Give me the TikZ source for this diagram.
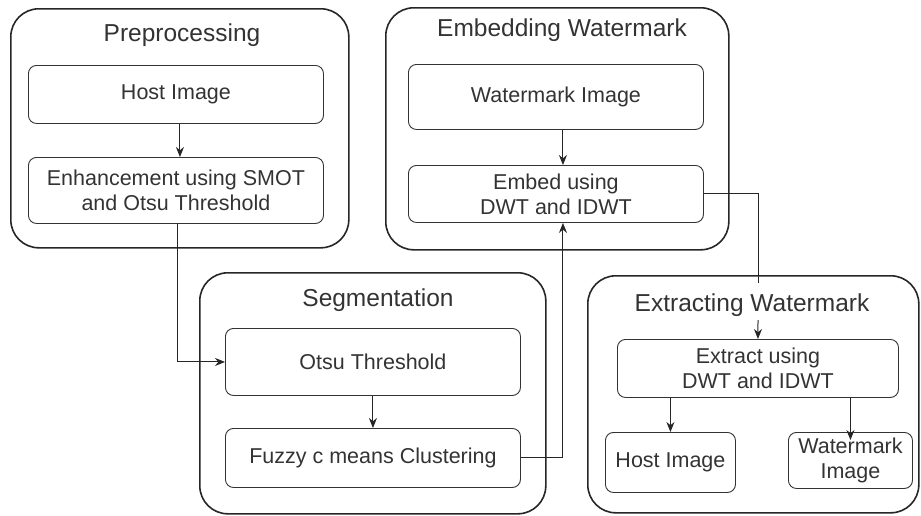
\documentclass[tikz,border=0pt]{standalone}
\usepackage{fontspec}
\setmainfont{Liberation Sans}
\usetikzlibrary{arrows.meta,calc}
\begin{document}
\begin{tikzpicture}[x=1pt,y=-1pt,
  outer/.style={draw=black!85,line width=1.6pt,rounded corners=28pt,anchor=north west,inner sep=0pt},
  inner/.style={draw=black!80,line width=0.9pt,rounded corners=8pt,anchor=north west,inner sep=0pt,align=center,font=\fontsize{21.5}{25}\selectfont,text=black!80},
  ttl/.style={font=\fontsize{24.5}{28}\selectfont,text=black!80},
  conn/.style={draw=black!85,line width=1pt},
  arr/.style={conn,-{Stealth[length=10pt,width=8pt]}}]
\useasboundingbox (0,0) rectangle (921,515);
% outer groups
\node[outer,minimum width=338pt,minimum height=239pt] (pre) at (10,8) {};
\node[outer,minimum width=343pt,minimum height=242pt] (emb) at (385,7) {};
\node[outer,minimum width=346pt,minimum height=241pt] (seg) at (199,272) {};
\node[outer,minimum width=331pt,minimum height=237pt] (ext) at (587,275) {};
% titles
\node[ttl] (tpre) at (182,35) {Preprocessing};
\node[ttl] (temb) at (562,30) {Embedding Watermark};
\node[ttl] (tseg) at (378,300) {Segmentation};
\node[ttl] (text) at (752,305) {Extracting Watermark};
% inner boxes
\node[inner,minimum width=295pt,minimum height=58pt] (host1) at (28,65) {Host Image};
\node[inner,minimum width=295pt,minimum height=66pt] (enh) at (28,157) {Enhancement using SMOT\\and Otsu Threshold};
\node[inner,minimum width=295pt,minimum height=65pt] (wmi) at (408,64) {Watermark Image};
\node[inner,minimum width=295pt,minimum height=57pt] (embbox) at (408,165) {Embed using\\DWT and IDWT};
\node[inner,minimum width=295pt,minimum height=67pt] (otsu) at (225,328) {Otsu Threshold};
\node[inner,minimum width=295pt,minimum height=59pt] (fuzzy) at (225,428) {Fuzzy c means Clustering};
\node[inner,minimum width=281pt,minimum height=58pt] (extract) at (617,339) {Extract using\\DWT and IDWT};
\node[inner,minimum width=130pt,minimum height=60pt] (host2) at (605,432) {Host Image};
\node[inner,minimum width=124pt,minimum height=56pt] (wmi2) at (788,432) {Watermark\\Image};
% connectors
\draw[arr] ([xshift=4pt]host1.south) -- ([xshift=4pt]enh.north);
\draw[arr] ([xshift=2pt]enh.south) |- (otsu.west);
\draw[arr] ([xshift=7pt]wmi.south) -- ([xshift=7pt]embbox.north);
\draw[arr] (otsu.south) -- (fuzzy.north);
\draw[arr] (fuzzy.east) -| ([xshift=7pt]embbox.south);
\coordinate (drop) at (758,283);
\coordinate (dropin) at (758,320);
\draw[conn] (embbox.east) -| (drop);
\draw[arr] (dropin) -- (extract.north);
\draw[arr] (extract.south -| host2.north) -- (host2.north);
\draw[arr] (extract.south -| wmi2.north) -- ([yshift=-8pt]wmi2.north);
\end{tikzpicture}
\end{document}
